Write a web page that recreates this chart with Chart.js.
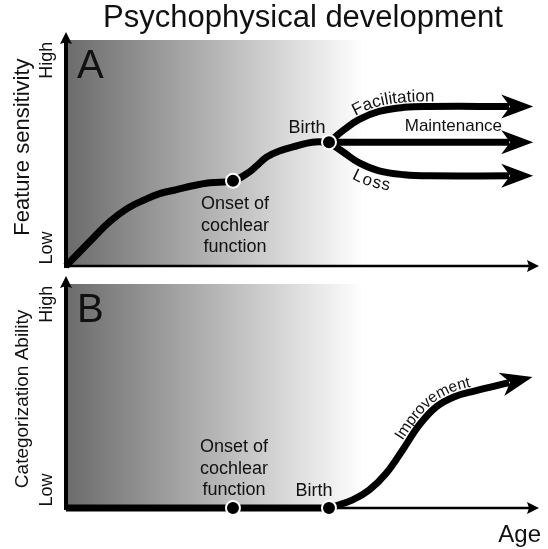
<!DOCTYPE html>
<html>
<head>
<meta charset="utf-8">
<script src="https://cdn.jsdelivr.net/npm/chart.js@4.4.1/dist/chart.umd.min.js"></script>
<style>
  html, body { margin: 0; padding: 0; background: #fff; }
  canvas { display: block; }
</style>
</head>
<body>
<canvas id="chartA" width="548" height="275"></canvas>
<canvas id="chartB" width="548" height="274"></canvas>
<script>
const FONT = '"Liberation Sans", Arial, sans-serif';
const INK = '#111';

// milestones on the age axis (onset of cochlear function, birth)
const milestoneAges = [35.3, 55.6];
const yTickLabels = ['Low', 'High'];
const yTickValues = [8, 91];

// panel A: feature sensitivity up to birth
const prenatalAge = [0, 5.7, 9.3, 12.9, 16.2, 19.8, 23.4, 26.8, 30.4, 35.3, 38.2, 40.3, 42.4, 45.1, 48.7, 52.1, 55.6];
const prenatalSensitivity = [0, 12.3, 19.7, 25.4, 28.9, 32.0, 33.8, 35.5, 36.8, 37.7, 40.8, 44.3, 48.2, 50.9, 53.1, 54.8, 54.8];

// panel A: the three outcomes after birth
const branchLabels = ['Facilitation', 'Maintenance', 'Loss'];
const postnatalAge = [55.6, 58.9, 62.0, 66.2, 71.5, 76.8, 93.7];
const facilitation = [54.8, 60.5, 64.9, 68.4, 70.2, 70.6, 70.6];
const maintenance = [54.8, 54.8, 54.8, 54.8, 54.8, 54.8, 54.8];
const loss = [54.8, 50.0, 45.6, 42.1, 40.4, 39.9, 39.9];

// panel B: categorization ability
const baselineAge = [0, 35.3, 55.6];
const baselineAbility = [0, 0, 0];
const improvementAge = [55.6, 60.5, 64.1, 67.7, 71.1, 74.7, 78.3, 82.0, 86.5, 93.7];
const improvementAbility = [0, 3.5, 8.0, 15.5, 25.7, 37.1, 45.2, 49.6, 52.3, 56.0];

const toPoints = (xs, ys) => xs.map((x, i) => ({ x, y: ys[i] }));

function text(ctx, str, x, y, size, rotate = 0, align = 'center') {
  ctx.save();
  ctx.translate(x, y);
  if (rotate) ctx.rotate(rotate * Math.PI / 180);
  ctx.font = `${size}px ${FONT}`;
  ctx.fillStyle = INK;
  ctx.textAlign = align;
  ctx.textBaseline = 'middle';
  ctx.fillText(str, 0, 0);
  ctx.restore();
}

// follow the drawn bezier of a dataset, sampled into a polyline
function samplePath(meta) {
  const pts = meta.data;
  const out = [{ x: pts[0].x, y: pts[0].y }];
  for (let i = 1; i < pts.length; i++) {
    const a = pts[i - 1], b = pts[i];
    const c1x = a.cp2x ?? a.x, c1y = a.cp2y ?? a.y;
    const c2x = b.cp1x ?? b.x, c2y = b.cp1y ?? b.y;
    for (let k = 1; k <= 12; k++) {
      const t = k / 12, u = 1 - t;
      out.push({
        x: u * u * u * a.x + 3 * u * u * t * c1x + 3 * u * t * t * c2x + t * t * t * b.x,
        y: u * u * u * a.y + 3 * u * u * t * c1y + 3 * u * t * t * c2y + t * t * t * b.y
      });
    }
  }
  return out;
}

// shift a polyline sideways (negative = above the direction of travel)
function offsetPath(path, offset) {
  return path.map((p, i) => {
    const a = path[Math.max(0, i - 1)], b = path[Math.min(path.length - 1, i + 1)];
    const len = Math.hypot(b.x - a.x, b.y - a.y) || 1;
    const tx = (b.x - a.x) / len, ty = (b.y - a.y) / len;
    return { x: p.x - offset * ty, y: p.y + offset * tx };
  });
}

// write a label letter by letter along a path
function pathText(ctx, str, path, startPx, size, baseline) {
  const cum = [0];
  for (let i = 1; i < path.length; i++) {
    cum.push(cum[i - 1] + Math.hypot(path[i].x - path[i - 1].x, path[i].y - path[i - 1].y));
  }
  const at = d => {
    let i = 1;
    while (i < path.length - 1 && cum[i] < d) i++;
    const a = path[i - 1], b = path[i];
    const f = (d - cum[i - 1]) / ((cum[i] - cum[i - 1]) || 1);
    const j = Math.min(path.length - 1, i + 2), h = Math.max(0, i - 3);
    return {
      x: a.x + (b.x - a.x) * f,
      y: a.y + (b.y - a.y) * f,
      ang: Math.atan2(path[j].y - path[h].y, path[j].x - path[h].x)
    };
  };
  let s = 1;
  while (s < path.length - 1 && path[s].x < startPx) s++;
  let d = cum[s];
  ctx.save();
  ctx.font = `${size}px ${FONT}`;
  ctx.fillStyle = INK;
  ctx.textAlign = 'center';
  ctx.textBaseline = baseline;
  const chars = [...str];
  chars.forEach((ch, k) => {
    // advance from the pair width so kerning is kept
    const w = k < chars.length - 1
      ? ctx.measureText(ch + chars[k + 1]).width - ctx.measureText(chars[k + 1]).width
      : ctx.measureText(ch).width;
    const cw = ctx.measureText(ch).width;
    const p = at(d + cw / 2);
    ctx.save();
    ctx.translate(p.x, p.y);
    ctx.rotate(p.ang);
    ctx.fillText(ch, 0, 0);
    ctx.restore();
    d += w;
  });
  ctx.restore();
}

// arrow head whose notch sits on (x1, y1), pointing away from (x0, y0)
function head(ctx, x0, y0, x1, y1, ext, len, half, notch) {
  const a = Math.atan2(y1 - y0, x1 - x0);
  ctx.save();
  ctx.translate(x1, y1);
  ctx.rotate(a);
  ctx.fillStyle = '#000';
  ctx.beginPath();
  ctx.moveTo(ext, 0);
  ctx.lineTo(ext - len, half);
  ctx.lineTo(ext - len + notch, 0);
  ctx.lineTo(ext - len, -half);
  ctx.closePath();
  ctx.fill();
  ctx.restore();
}

const schematic = {
  id: 'schematic',
  beforeDatasetsDraw(chart, args, opts) {
    const { ctx, chartArea: area, scales: { x } } = chart;
    // shaded prenatal period
    const x1 = x.getPixelForValue(opts.shadeTo);
    const grad = ctx.createLinearGradient(area.left, 0, x1, 0);
    grad.addColorStop(0, '#6b6b6b');
    grad.addColorStop(1, '#ffffff');
    ctx.save();
    ctx.fillStyle = grad;
    ctx.fillRect(area.left, area.top, x1 - area.left, area.bottom - area.top);

    // axes with arrows
    ctx.strokeStyle = '#000';
    ctx.lineWidth = 4;
    ctx.beginPath();
    ctx.moveTo(area.left, area.bottom + 2);
    ctx.lineTo(area.left, area.top);
    ctx.stroke();
    head(ctx, area.left, area.bottom, area.left, area.top, 8, 12, 6, 2);
    ctx.lineWidth = 2.5;
    ctx.beginPath();
    ctx.moveTo(area.left, area.bottom);
    ctx.lineTo(area.right - 8, area.bottom);
    ctx.stroke();
    head(ctx, area.left, area.bottom, area.right - 8, area.bottom, 8, 12, 6, 2);
    ctx.restore();
  },
  afterDatasetsDraw(chart) {
    const { ctx } = chart;
    chart.data.datasets.forEach((ds, i) => {
      if (!ds.arrow) return;
      const pts = chart.getDatasetMeta(i).data;
      const p0 = pts[pts.length - 2], p1 = pts[pts.length - 1];
      head(ctx, p0.x, p0.y, p1.x, p1.y, 24, 32, 12, 9);
    });
  },
  afterDraw(chart, args, opts) {
    const { ctx, chartArea: area, scales: { x, y } } = chart;
    text(ctx, opts.letter, area.left + 11, area.top + 27, 40, 0, 'left');
    text(ctx, opts.yTitle, 23, y.getPixelForValue(opts.yTitleAt), opts.yTitleSize, -90);
    yTickLabels.forEach((t, i) => text(ctx, t, 47.5, y.getPixelForValue(yTickValues[i]), 18, -90));
    opts.labels.forEach(l => {
      if (l.along !== undefined) {
        const path = offsetPath(samplePath(chart.getDatasetMeta(l.along)), l.offset);
        pathText(ctx, l.text, path, x.getPixelForValue(l.from), l.size, l.baseline);
      } else {
        text(ctx, l.text, x.getPixelForValue(l.x) + (l.dx || 0), y.getPixelForValue(l.y) + (l.dy || 0), l.size);
      }
    });
    if (opts.ageLabel) text(ctx, 'Age', area.right + 2, area.bottom + 27, 24, 0, 'right');
  }
};

const lineStyle = {
  borderColor: '#000',
  borderWidth: 7,
  pointRadius: 0,
  tension: 0.4,
  borderJoinStyle: 'round',
  clip: false
};

function milestoneDots(ys) {
  return {
    type: 'line',
    data: toPoints(milestoneAges, ys),
    showLine: false,
    pointRadius: 7,
    pointBorderWidth: 2,
    pointBackgroundColor: '#000',
    pointBorderColor: '#fff',
    order: -1,
    clip: false
  };
}

function makePanel(canvasId, datasets, panelOpts, layoutPadding, title) {
  return new Chart(document.getElementById(canvasId), {
    type: 'line',
    data: { datasets },
    options: {
      responsive: false,
      animation: false,
      events: [],
      layout: { padding: layoutPadding },
      plugins: {
        legend: { display: false },
        tooltip: { enabled: false },
        title: title,
        schematic: panelOpts
      },
      scales: {
        x: { type: 'linear', min: 0, max: 100, display: false },
        y: { type: 'linear', min: 0, max: 100, display: false }
      }
    },
    plugins: [schematic]
  });
}

const onsetLines = ['Onset of', 'cochlear', 'function'];

makePanel('chartA', [
  milestoneDots([37.7, 54.8]),
  { ...lineStyle, data: toPoints(prenatalAge, prenatalSensitivity) },
  { ...lineStyle, data: toPoints(postnatalAge, facilitation), arrow: true },
  { ...lineStyle, data: toPoints(postnatalAge, maintenance), arrow: true },
  { ...lineStyle, data: toPoints(postnatalAge, loss), arrow: true }
], {
  shadeTo: 63,
  letter: 'A',
  yTitle: 'Feature sensitivity',
  yTitleSize: 22,
  yTitleAt: 52.6,
  labels: [
    ...onsetLines.map((t, i) => ({ text: t, x: milestoneAges[0], y: 37.7, dx: 2, dy: 23.5 + i * 21.5, size: 18 })),
    { text: 'Birth', x: milestoneAges[1], y: 54.8, dx: -22, dy: -14.5, size: 18 },
    { text: branchLabels[0], along: 2, from: 61.0, offset: -5, size: 17, baseline: 'alphabetic' },
    { text: branchLabels[1], x: 81.9, y: 61.8, size: 17 },
    { text: branchLabels[2], along: 4, from: 61.4, offset: 4, size: 17, baseline: 'top' }
  ]
}, { left: 66, right: 8, top: 0, bottom: 7 }, {
  display: true,
  text: 'Psychophysical development',
  color: INK,
  font: { family: FONT, size: 31, weight: 'normal' },
  padding: { top: 0, bottom: 2.8 }
});

makePanel('chartB', [
  milestoneDots([0, 0]),
  { ...lineStyle, data: toPoints(baselineAge, baselineAbility) },
  { ...lineStyle, data: toPoints(improvementAge, improvementAbility), arrow: true }
], {
  shadeTo: 63,
  letter: 'B',
  yTitle: 'Categorization Ability',
  yTitleSize: 19,
  yTitleAt: 48.7,
  ageLabel: true,
  labels: [
    ...onsetLines.map((t, i) => ({ text: t, x: milestoneAges[0], y: 0, dx: 1, dy: -60.5 + i * 21.5, size: 18 })),
    { text: 'Birth', x: milestoneAges[1], y: 0, dx: -15, dy: -17, size: 18 },
    { text: 'Improvement', along: 2, from: 71.0, offset: -5, size: 15.5, baseline: 'alphabetic' }
  ]
}, { left: 66, right: 8, top: 7, bottom: 41 }, { display: false });
</script>
</body>
</html>
